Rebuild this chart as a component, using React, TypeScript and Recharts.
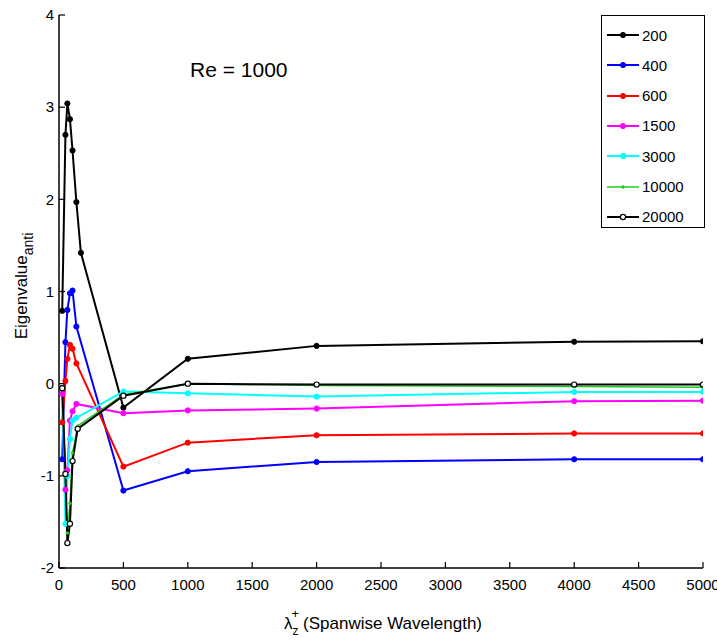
import { LineChart, Line, XAxis, YAxis } from 'recharts'

/* ─── Data ─── */

const X_200 = [25, 50, 65, 85, 105, 135, 170, 500, 1000, 2000, 4000, 5000]
const X_MID = [25, 50, 65, 85, 105, 135, 500, 1000, 2000, 4000, 5000]
const X_LATE = [25, 50, 65, 85, 105, 145, 500, 1000, 2000, 4000, 5000]

const Y_200 = [0.79, 2.7, 3.04, 2.87, 2.53, 1.97, 1.42, -0.26, 0.27, 0.41, 0.455, 0.46]
const Y_400 = [-0.82, 0.45, 0.8, 0.98, 1.01, 0.62, -1.16, -0.95, -0.85, -0.82, -0.82]
const Y_600 = [-0.42, 0.03, 0.27, 0.42, 0.38, 0.22, -0.9, -0.64, -0.56, -0.54, -0.54]
const Y_1500 = [-0.11, -1.15, -0.94, -0.4, -0.3, -0.22, -0.32, -0.29, -0.27, -0.19, -0.185]
const Y_3000 = [-0.05, -1.52, -1.0, -0.6, -0.4, -0.37, -0.085, -0.105, -0.14, -0.09, -0.09]
const Y_10000 = [-0.06, -1.0, -1.62, -1.3, -0.75, -0.46, -0.12, 0.0, -0.02, -0.03, -0.04]
const Y_20000 = [-0.05, -0.98, -1.73, -1.52, -0.84, -0.49, -0.13, 0.0, -0.01, -0.01, -0.01]

const X_TICKS = [0, 500, 1000, 1500, 2000, 2500, 3000, 3500, 4000, 4500, 5000]
const Y_TICKS = [-2, -1, 0, 1, 2, 3, 4]

interface SeriesConfig {
  name: string
  xs: number[]
  ys: number[]
  color: string
  width: number
  dotR: number
  hollow?: boolean
}

const SERIES: SeriesConfig[] = [
  { name: '200', xs: X_200, ys: Y_200, color: '#000000', width: 2, dotR: 2.6 },
  { name: '400', xs: X_MID, ys: Y_400, color: '#0000ff', width: 2, dotR: 2.6 },
  { name: '600', xs: X_MID, ys: Y_600, color: '#ff0000', width: 2, dotR: 2.6 },
  { name: '1500', xs: X_MID, ys: Y_1500, color: '#ff00ff', width: 2, dotR: 2.6 },
  { name: '3000', xs: X_MID, ys: Y_3000, color: '#00ffff', width: 2, dotR: 2.6 },
  { name: '10000', xs: X_LATE, ys: Y_10000, color: '#22cc22', width: 1.5, dotR: 1.3 },
  { name: '20000', xs: X_LATE, ys: Y_20000, color: '#000000', width: 2, dotR: 2.6, hollow: true },
]

/* ─── Constants ─── */

const FONT = '"Liberation Sans", Arial, sans-serif'
const W = 717
const H = 641
const AXIS_LINE = { stroke: '#000', strokeWidth: 1.5 }
const TICK_LINE = { stroke: '#000', strokeWidth: 1.2 }
const TICK_TEXT = { fill: '#000', fontSize: 15, fontFamily: FONT }
const HIDDEN_TEXT = { fill: 'transparent', fontSize: 1 }

/* ─── Legend ─── */

function LegendBox() {
  return (
    <div
      style={{
        position: 'absolute',
        left: 601,
        top: 15,
        width: 102,
        height: 211,
        border: '1.5px solid #000',
        background: '#fff',
        fontFamily: FONT,
        fontSize: 15,
      }}
    >
      {SERIES.map((s, i) => (
        <div
          key={s.name}
          style={{ position: 'absolute', left: 4, top: 9 + i * 30.3, height: 20, display: 'flex', alignItems: 'center' }}
        >
          <svg width={34} height={20}>
            <line x1={1} x2={33} y1={10} y2={10} stroke={s.color} strokeWidth={s.width} />
            <circle
              cx={17}
              cy={10}
              r={s.dotR}
              fill={s.hollow ? '#fff' : s.color}
              stroke={s.color}
              strokeWidth={s.hollow ? 1.2 : 1}
            />
          </svg>
          <span style={{ marginLeft: 2 }}>{s.name}</span>
        </div>
      ))}
    </div>
  )
}

/* ─── Main ─── */

export default function App() {
  const seriesData = SERIES.map((s) => s.xs.map((x, i) => ({ x, y: s.ys[i] })))

  return (
    <div style={{ position: 'absolute', left: 0, top: 0, width: W, height: H, background: '#fff' }}>
      <LineChart width={W} height={H} margin={{ top: 15, right: 14, bottom: 43, left: 0 }}>
        {/* inward ticks: negative tickSize, label pushed back out with tickMargin */}
        <XAxis
          xAxisId="b"
          type="number"
          dataKey="x"
          domain={[0, 5000]}
          ticks={X_TICKS}
          interval={0}
          height={30}
          tickSize={-6}
          tickMargin={17}
          tick={TICK_TEXT}
          tickLine={TICK_LINE}
          axisLine={AXIS_LINE}
          allowDataOverflow
        />
        <XAxis
          xAxisId="t"
          orientation="top"
          type="number"
          dataKey="x"
          domain={[0, 5000]}
          ticks={X_TICKS}
          interval={0}
          height={0}
          tickSize={-6}
          tick={HIDDEN_TEXT}
          tickLine={TICK_LINE}
          axisLine={AXIS_LINE}
        />
        <YAxis
          yAxisId="l"
          type="number"
          domain={[-2, 4]}
          ticks={Y_TICKS}
          interval={0}
          width={59}
          tickSize={-6}
          tickMargin={11}
          tick={TICK_TEXT}
          tickLine={TICK_LINE}
          axisLine={AXIS_LINE}
          allowDataOverflow
        />
        <YAxis
          yAxisId="r"
          orientation="right"
          type="number"
          domain={[-2, 4]}
          ticks={Y_TICKS}
          interval={0}
          width={0}
          tickSize={-6}
          tick={HIDDEN_TEXT}
          tickLine={TICK_LINE}
          axisLine={AXIS_LINE}
        />
        {SERIES.map((s, i) => (
          <Line
            key={s.name}
            xAxisId="b"
            yAxisId="l"
            data={seriesData[i]}
            dataKey="y"
            name={s.name}
            type="linear"
            stroke={s.color}
            strokeWidth={s.width}
            dot={{
              r: s.dotR,
              fill: s.hollow ? '#fff' : s.color,
              stroke: s.color,
              strokeWidth: s.hollow ? 1.2 : 1,
            }}
            activeDot={false}
            isAnimationActive={false}
          />
        ))}
      </LineChart>

      <svg width={W} height={H} style={{ position: 'absolute', left: 0, top: 0, pointerEvents: 'none' }}>
        <text x={190} y={77} fontSize={21} fontFamily={FONT} fill="#000">
          Re = 1000
        </text>
        <text
          x={27}
          y={286}
          transform="rotate(-90 27 286)"
          textAnchor="middle"
          fontSize={17}
          fontFamily={FONT}
          fill="#000"
        >
          Eigenvalue
          <tspan dy={6} fontSize={14}>
            anti
          </tspan>
        </text>
        <text x={284} y={629} fontSize={17} fontFamily={FONT} fill="#000">
          λ
          <tspan dy={6} fontSize={12}>
            z
          </tspan>
          <tspan dx={-7} dy={-17} fontSize={13}>
            +
          </tspan>
          <tspan dx={4} dy={11} fontSize={17}>
            (Spanwise Wavelength)
          </tspan>
        </text>
      </svg>

      <LegendBox />
    </div>
  )
}
